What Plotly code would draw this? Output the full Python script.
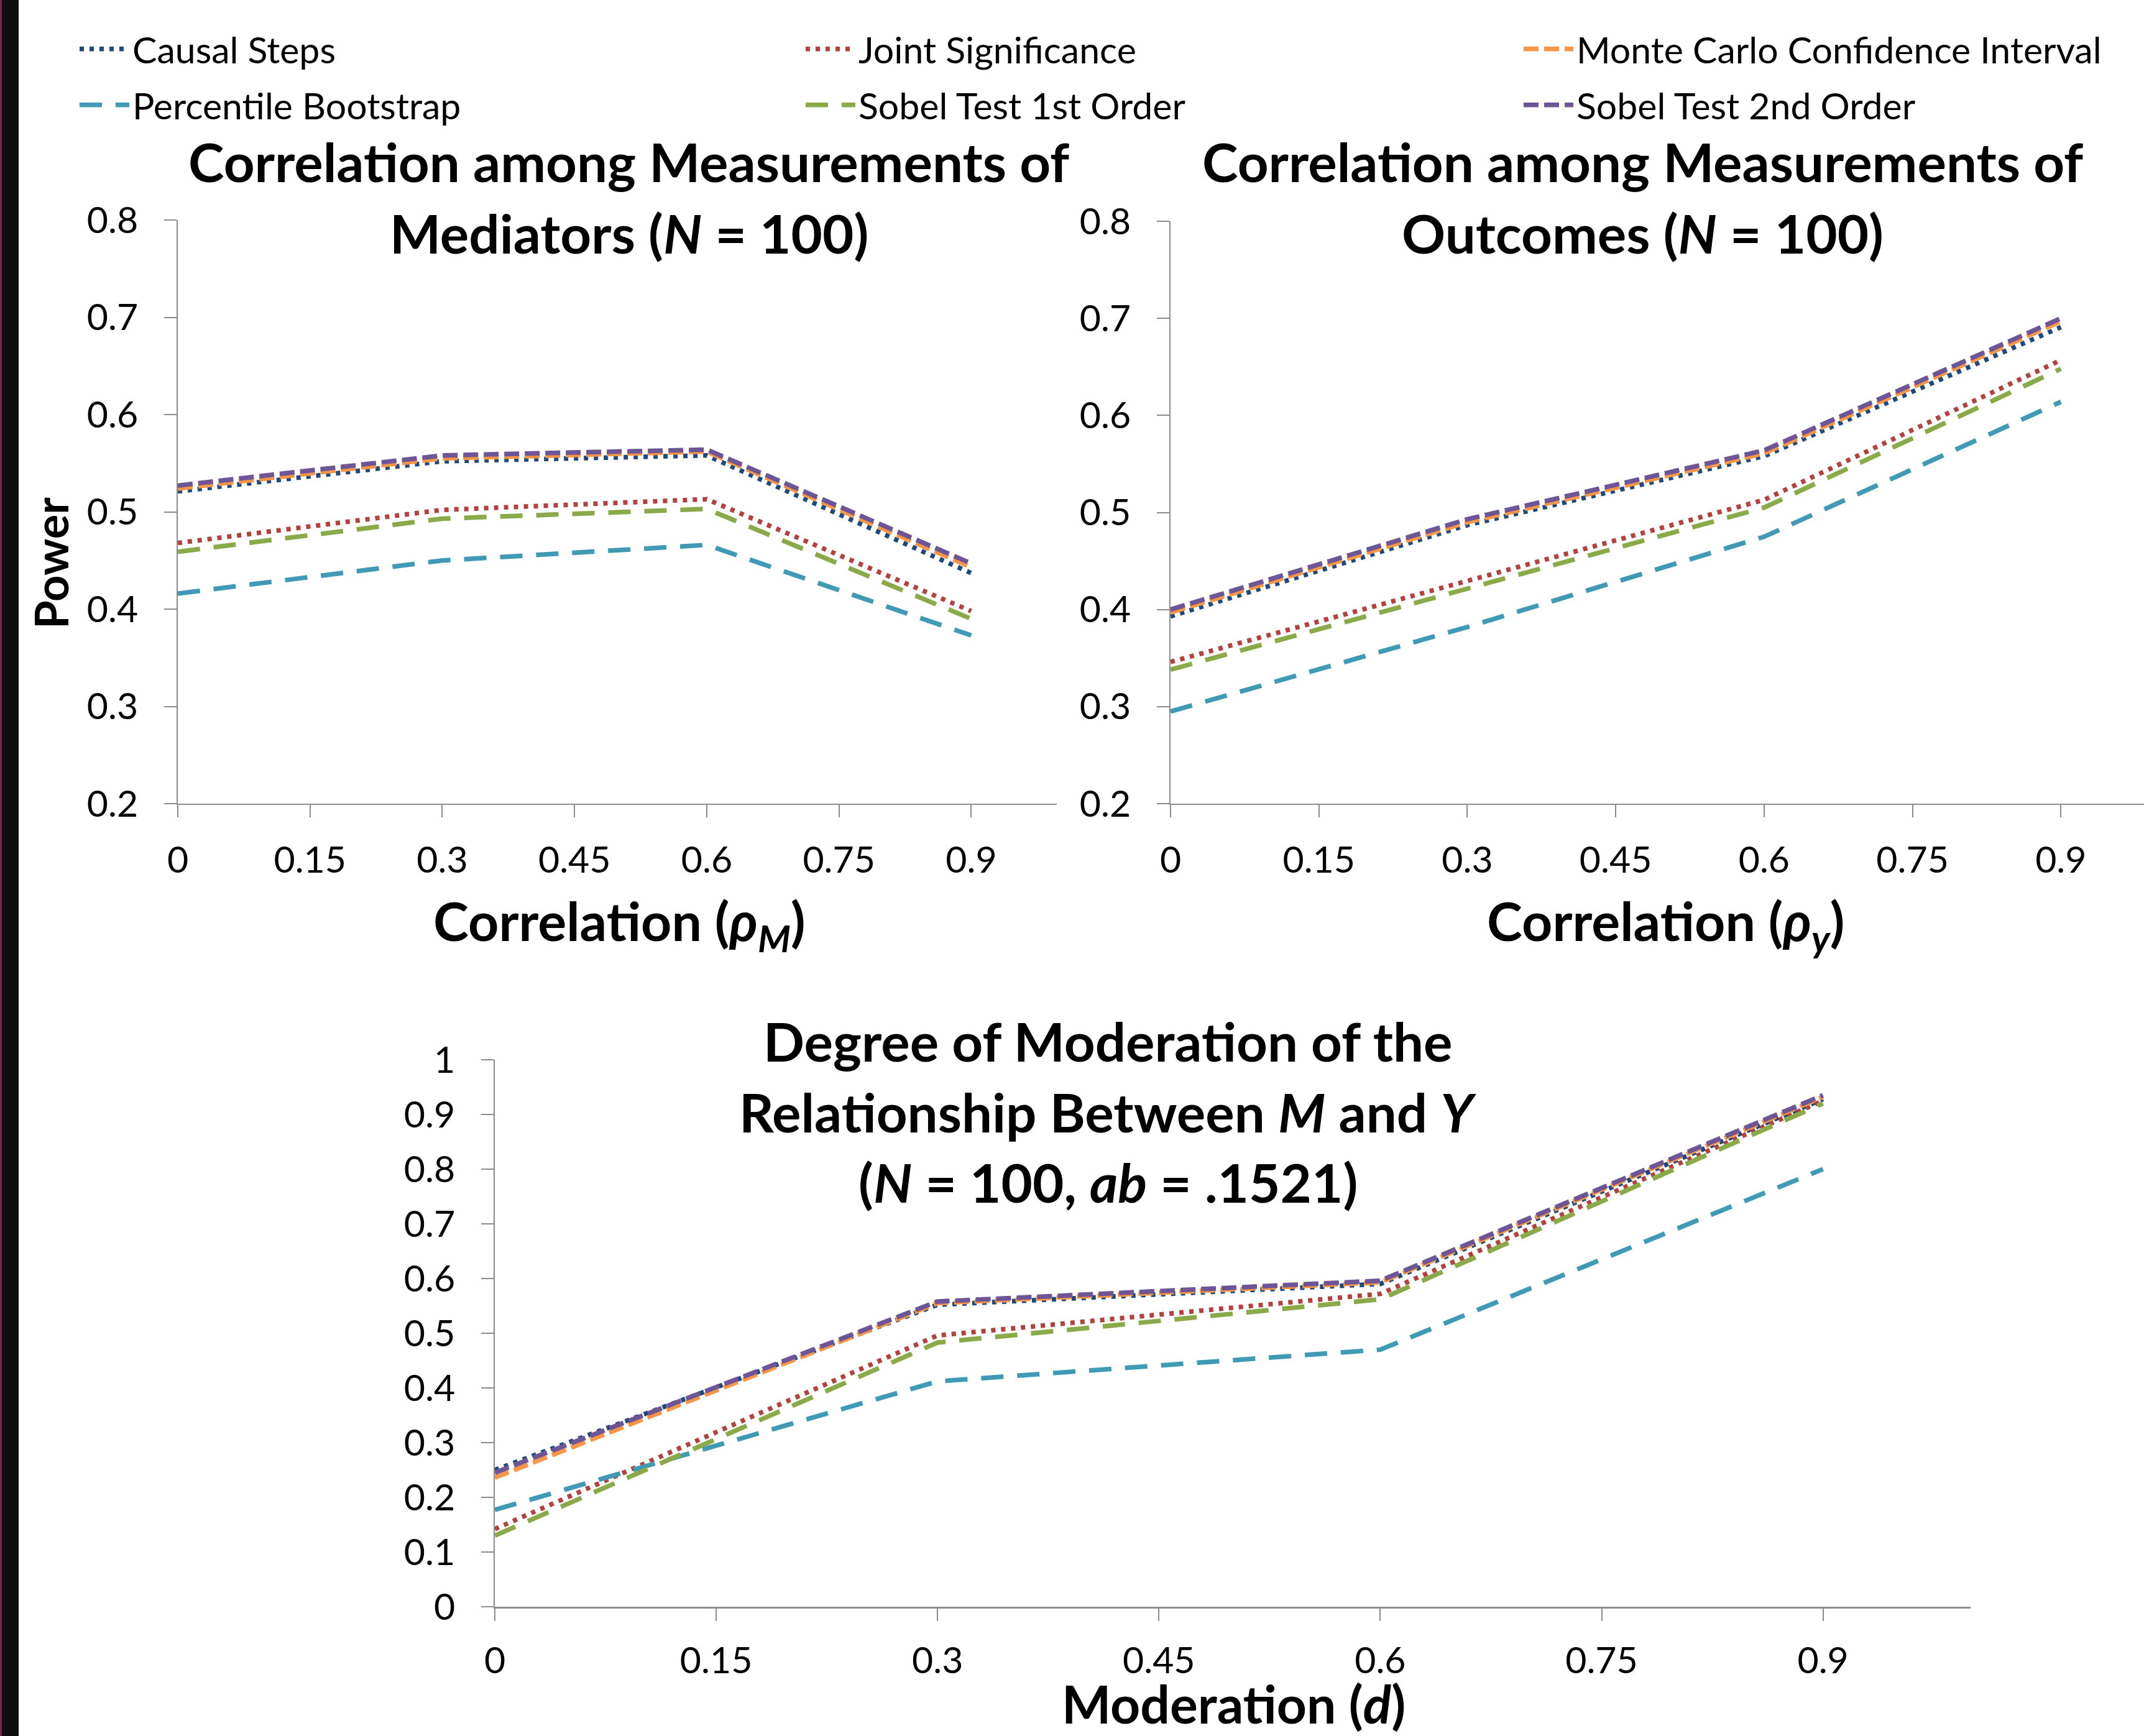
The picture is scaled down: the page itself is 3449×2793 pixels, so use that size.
import plotly.graph_objects as go

W, H = 3449, 2793

# ---------------- data ----------------
methods = ["Causal Steps", "Joint Significance", "Monte Carlo Confidence Interval",
           "Percentile Bootstrap", "Sobel Test 1st Order", "Sobel Test 2nd Order"]
colors = ["#1F497D", "#B3413E", "#F79646", "#409AB4", "#8AAA4A", "#6E5596"]
dashes = ["7px,9px", "7px,9px", "24px,9px", "36px,22px", "36px,22px", "24px,9px"]

x_vals = [0, 0.3, 0.6, 0.9]
x_ticks = [0, 0.15, 0.3, 0.45, 0.6, 0.75, 0.9]
x_tick_text = ["0", "0.15", "0.3", "0.45", "0.6", "0.75", "0.9"]
y_ticks_top = [0.2, 0.3, 0.4, 0.5, 0.6, 0.7, 0.8]
y_tick_text_top = ["0.2", "0.3", "0.4", "0.5", "0.6", "0.7", "0.8"]
y_ticks_bottom = [0, 0.1, 0.2, 0.3, 0.4, 0.5, 0.6, 0.7, 0.8, 0.9, 1.0]
y_tick_text_bottom = ["0", "0.1", "0.2", "0.3", "0.4", "0.5", "0.6", "0.7", "0.8", "0.9", "1"]

# Panel 1: correlation among measurements of mediators
rhoM = {
    "Causal Steps":                    [0.521, 0.552, 0.558, 0.437],
    "Joint Significance":              [0.468, 0.502, 0.513, 0.398],
    "Monte Carlo Confidence Interval": [0.524, 0.555, 0.562, 0.443],
    "Percentile Bootstrap":            [0.416, 0.450, 0.466, 0.373],
    "Sobel Test 1st Order":            [0.459, 0.493, 0.503, 0.390],
    "Sobel Test 2nd Order":            [0.527, 0.558, 0.564, 0.447],
}
# Panel 2: correlation among measurements of outcomes
rhoY = {
    "Causal Steps":                    [0.393, 0.487, 0.558, 0.691],
    "Joint Significance":              [0.346, 0.429, 0.513, 0.657],
    "Monte Carlo Confidence Interval": [0.397, 0.490, 0.561, 0.697],
    "Percentile Bootstrap":            [0.295, 0.382, 0.475, 0.614],
    "Sobel Test 1st Order":            [0.338, 0.421, 0.505, 0.648],
    "Sobel Test 2nd Order":            [0.400, 0.493, 0.564, 0.700],
}
# Panel 3: degree of moderation
modD = {
    "Causal Steps":                    [0.250, 0.552, 0.590, 0.928],
    "Joint Significance":              [0.142, 0.496, 0.572, 0.925],
    "Monte Carlo Confidence Interval": [0.236, 0.555, 0.593, 0.932],
    "Percentile Bootstrap":            [0.177, 0.412, 0.470, 0.800],
    "Sobel Test 1st Order":            [0.130, 0.483, 0.562, 0.920],
    "Sobel Test 2nd Order":            [0.245, 0.558, 0.596, 0.935],
}

FONT = "Lato, 'Open Sans', sans-serif"
GREY = "#8C8C8C"


def px_x(p):
    return p / W


def px_y(p):
    return 1 - p / H


fig = go.Figure()

legend_names = ["legend", "legend2", "legend3", "legend4", "legend5", "legend6"]
panels = [(rhoM, "x", "y"), (rhoY, "x2", "y2"), (modD, "x3", "y3")]
for pi, (data, xa, ya) in enumerate(panels):
    for i, m in enumerate(methods):
        fig.add_trace(go.Scatter(
            x=x_vals, y=data[m], mode="lines", name=m,
            xaxis=xa, yaxis=ya,
            line=dict(color=colors[i], width=7.5, dash=dashes[i]),
            showlegend=(pi == 0),
            legend=legend_names[i],
            hoverinfo="skip",
        ))

tickfont = dict(family=FONT, size=59, color="black")


def xaxis_cfg(domain, rng, lw, anchor, standoff):
    return dict(domain=domain, range=rng, tickvals=x_ticks, ticktext=x_tick_text, anchor=anchor,
                showgrid=False, zeroline=False, showline=True, linecolor=GREY,
                linewidth=lw, ticks="outside", ticklen=20, tickwidth=2, tickcolor=GREY,
                tickfont=tickfont, ticklabelstandoff=standoff, fixedrange=True)


def yaxis_cfg(domain, rng, tv, tt, anchor):
    return dict(domain=domain, range=rng, tickvals=tv, ticktext=tt, anchor=anchor,
                showgrid=False, zeroline=False, showline=True, linecolor=GREY,
                linewidth=2, ticks="outside", ticklen=20, tickwidth=2, tickcolor=GREY,
                tickfont=tickfont, ticklabelstandoff=30, fixedrange=True)


layout = dict(
    width=W, height=H,
    margin=dict(l=0, r=0, t=0, b=0, autoexpand=False),
    paper_bgcolor="white", plot_bgcolor="white",
    font=dict(family=FONT, color="black"),
    xaxis=xaxis_cfg([px_x(286), px_x(1700)], [0, 0.997], 2, "y", 18),
    yaxis=yaxis_cfg([px_y(1293), px_y(354)], [0.2, 0.8], y_ticks_top, y_tick_text_top, "x"),
    xaxis2=xaxis_cfg([px_x(1883), 1.0], [0, 0.984], 2, "y2", 18),
    yaxis2=yaxis_cfg([px_y(1293), px_y(356)], [0.2, 0.8], y_ticks_top, y_tick_text_top, "x2"),
    xaxis3=xaxis_cfg([px_x(796), px_x(3170)], [0, 1.0], 3, "y3", 13),
    yaxis3=yaxis_cfg([px_y(2585), px_y(1705)], [0, 1.0], y_ticks_bottom, y_tick_text_bottom, "x3"),
)

# one legend per entry, placed in a 3 x 2 grid like the reference
legend_pos = [(123, 79), (1291, 79), (2446, 79), (123, 169), (1291, 169), (2446, 169)]
for name, (lx, ly) in zip(legend_names, legend_pos):
    layout[name] = dict(orientation="v", x=px_x(lx), xanchor="left", y=px_y(ly), yanchor="middle",
                        font=dict(family=FONT, size=59, color="black"), itemwidth=80,
                        bgcolor="rgba(0,0,0,0)", borderwidth=0)

fig.update_layout(**layout)


def note(text, xp, yp, size=87, angle=0):
    fig.add_annotation(text=text, x=px_x(xp), y=px_y(yp), xref="paper", yref="paper",
                       showarrow=False, xanchor="center", yanchor="middle", textangle=angle,
                       font=dict(family=FONT, size=size, color="black", weight="bold"))


# panel titles
note("Correlation among Measurements of", 1012, 260)
note("Mediators (<i>N</i> = 100)", 1012, 374)
note("Correlation among Measurements of", 2642, 260)
note("Outcomes (<i>N</i> = 100)", 2642, 374)
note("Degree of Moderation of the", 1782, 1674)
note("Relationship Between <i>M</i> and <i>Y</i>", 1782, 1788)
note("(<i>N</i> = 100, <i>ab</i> = .1521)", 1782, 1901)

# axis titles
note("Correlation (<i>ρ</i><sub><i>M</i></sub>)", 996, 1487, size=86)
note("Correlation (<i>ρ</i><sub><i>y</i></sub>)", 2679, 1487, size=86)
note("Moderation (<i>d</i>)", 1984, 2740, size=84)
note("Power", 81, 906, size=74, angle=-90)

# left dark border stripe
fig.add_shape(type="rect", xref="paper", yref="paper", x0=0, x1=px_x(30), y0=0, y1=1,
              fillcolor="#0D0D0D", line=dict(width=0), layer="above")
fig.add_shape(type="rect", xref="paper", yref="paper", x0=0, x1=px_x(3), y0=0, y1=1,
              fillcolor="#7B2450", line=dict(width=0), layer="above")

fig.write_html("out.html", config={"displayModeBar": False},
               post_script="document.body.style.margin='0px';")
